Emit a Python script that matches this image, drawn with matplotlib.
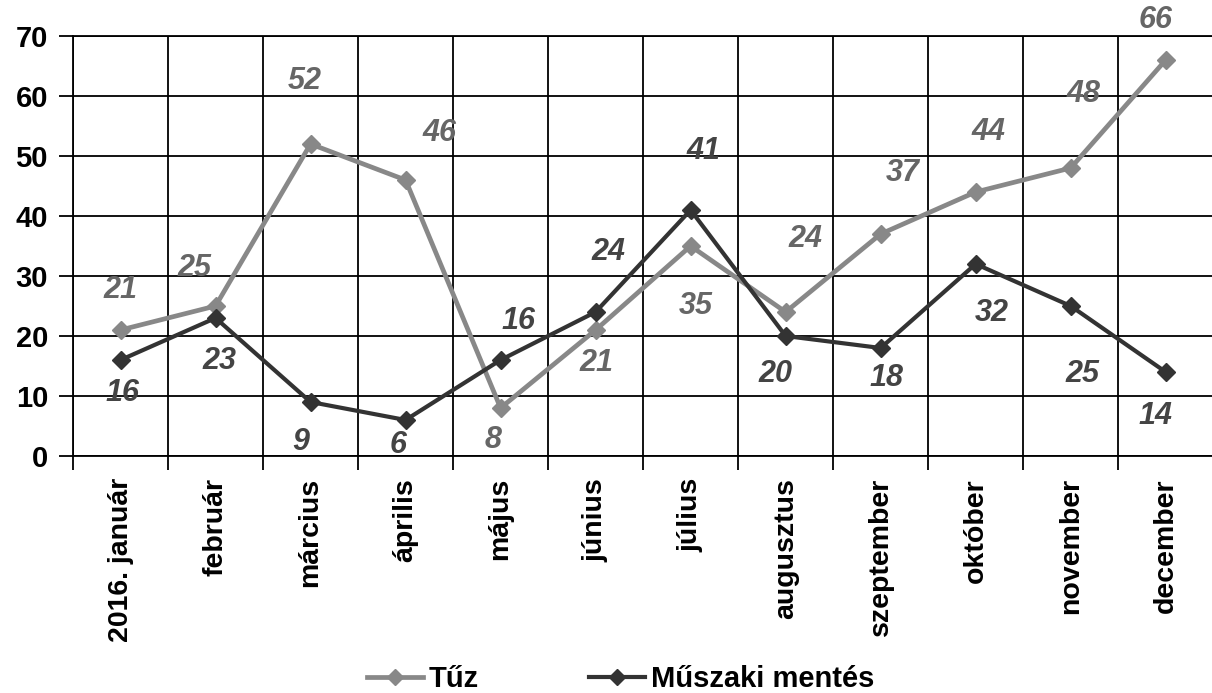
import numpy as np
from matplotlib import pyplot as plt

honapok = ['2016. január', 'február', 'március', 'április', 'május', 'június',
           'július', 'augusztus', 'szeptember', 'október', 'november', 'december']
tuz = [21, 25, 52, 46, 8, 21, 35, 24, 37, 44, 48, 66]
muszaki = [16, 23, 9, 6, 16, 24, 41, 20, 18, 32, 25, 14]

# felirat eltolasok pixelben (dx, dy)
tuz_eltolas = [(0, 40), (-21, 38), (-6, 63), (34, 47), (-7, -32), (1, -33),
               (5, -60), (20, 73), (22, 61), (13, 60), (13, 74), (-10, 40)]
muszaki_eltolas = [(2, -33), (4, -43), (-10, -40), (-7, -25), (18, 39), (13, 60),
                   (13, 59), (-10, -38), (6, -30), (16, -49), (12, -68), (-10, -44)]

plt.rcParams['font.family'] = ['Liberation Sans', 'DejaVu Sans']

fig = plt.figure(figsize=(12.12, 6.93), dpi=100)
ax = fig.add_axes([73 / 1212, 1 - 456 / 693, 1 - 73 / 1212 + 0.001, (456 - 36) / 693])

x = np.arange(len(honapok))
szin_tuz = '#888888'
szin_musz = '#333333'

ax.plot(x, tuz, color=szin_tuz, lw=3.4, marker='D', ms=9.5, zorder=3)
ax.plot(x, muszaki, color=szin_musz, lw=3, marker='D', ms=9.5, zorder=4)

for i in range(len(x)):
    ax.annotate(str(tuz[i]), (x[i], tuz[i]), xytext=tuz_eltolas[i],
                textcoords='offset pixels', ha='center', va='center',
                fontsize=22, fontweight='bold', style='italic', color='#666666',
                annotation_clip=False)
    ax.annotate(str(muszaki[i]), (x[i], muszaki[i]), xytext=muszaki_eltolas[i],
                textcoords='offset pixels', ha='center', va='center',
                fontsize=22, fontweight='bold', style='italic', color='#444444',
                annotation_clip=False)

ax.set_xlim(-0.5, 11.5)
ax.set_ylim(0, 70)
ax.set_yticks(range(0, 71, 10))
ax.set_xticks(x)
ax.set_xticklabels(honapok, rotation=90, fontsize=20.5, fontweight='bold')
ax.set_xticks(np.arange(-0.5, 12, 1), minor=True)
for lab in ax.get_yticklabels():
    lab.set_fontweight('bold')
    lab.set_fontsize(21)

ax.tick_params(axis='x', which='major', length=0, pad=16)
ax.tick_params(axis='x', which='minor', length=10, width=1.3, color='black')
ax.tick_params(axis='y', length=10, width=1.3, pad=8, colors='black')

ax.grid(True, axis='y', which='major', color='black', lw=1.3)
ax.grid(True, axis='x', which='minor', color='black', lw=1.3)
for s in ['top', 'left', 'bottom']:
    ax.spines[s].set_linewidth(1.3)
ax.spines['right'].set_visible(False)

fogantyu = [plt.Line2D([], [], color=szin_tuz, lw=3.4, marker='D', ms=8),
            plt.Line2D([], [], color=szin_musz, lw=3, marker='D', ms=8)]
fig.legend(fogantyu, ['Tűz', 'Műszaki mentés'], loc='center',
           bbox_to_anchor=(0.512, 0.02), ncol=2, frameon=False,
           prop={'size': 21, 'weight': 'bold'}, columnspacing=3.8,
           handlelength=1.9, handletextpad=0.2, borderpad=0)

fig.savefig('out.png', dpi=100)
